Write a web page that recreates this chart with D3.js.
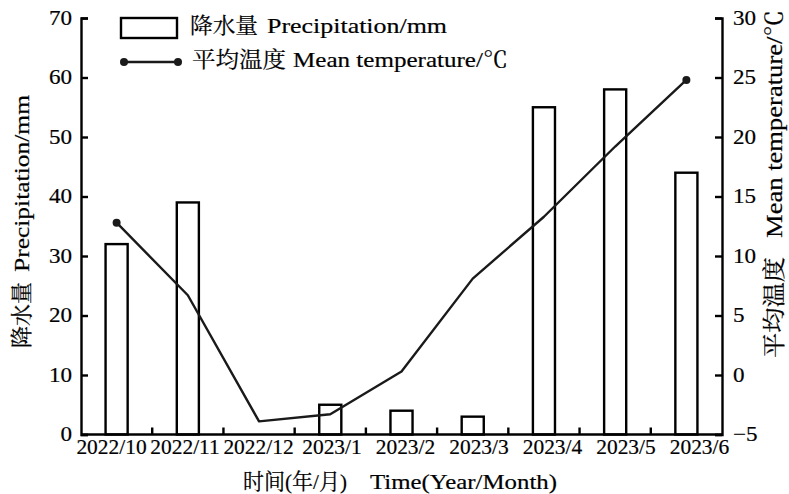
<!DOCTYPE html>
<html>
<head>
<meta charset="utf-8">
<script src="https://cdn.jsdelivr.net/npm/d3@7"></script>
<style>
  html, body { margin: 0; padding: 0; background: #fff; }
  svg text { font-family: "Liberation Serif", "Noto Serif CJK SC", "Noto Sans CJK SC", serif; fill: #000; stroke: #000; stroke-width: 0.2px; }
</style>
</head>
<body>
<svg id="chart" width="789" height="494"></svg>
<script>
// Monthly precipitation (bars, left axis) and mean temperature (line, right axis)
const months = ["2022/10", "2022/11", "2022/12", "2023/1", "2023/2", "2023/3", "2023/4", "2023/5", "2023/6"];
const precipitation = [32, 39, 0, 5, 4, 3, 55, 58, 44];
const temperature = [12.8, 6.7, -3.9, -3.3, 0.3, 8.1, 13.3, 19.2, 24.8];
const precipTicks = [0, 10, 20, 30, 40, 50, 60, 70];
const tempTicks = [-5, 0, 5, 10, 15, 20, 25, 30];

const svg = d3.select("#chart");
const plotL = 81, plotR = 722, plotT = 18, plotB = 434.5;
const fontSize = 21;
const tickStretch = 1.1;      // y tick labels are set a little wide
const stroke = 2.4;

const x = d3.scaleBand().domain(months).range([plotL, plotR]).padding(0);
const xLabel = d3.scalePoint().domain(months).range([111, 699]);
const yP = d3.scaleLinear().domain([0, 70]).range([plotB, plotT]);
const yT = d3.scaleLinear().domain([-5, 30]).range([plotB, plotT]);

const stretch = (sel, k) => sel.each(function () {
  const t = d3.select(this);
  const tx = +t.attr("x") || 0;
  t.attr("transform", `translate(${tx},0) scale(${k},1) translate(${-tx},0)`);
});

// Text run that spans an exact length along its baseline
function run(parent, str, length, size) {
  return parent.append("text")
    .attr("font-size", size)
    .attr("textLength", length)
    .attr("lengthAdjust", "spacingAndGlyphs")
    .text(str);
}

// Bars
const barW = x.bandwidth() * 0.31;
svg.append("g").selectAll("rect")
  .data(months.map((m, i) => ({ m, v: precipitation[i] })).filter(d => d.v > 0))
  .join("rect")
  .attr("x", d => x(d.m) + x.bandwidth() / 2 - barW / 2)
  .attr("y", d => yP(d.v))
  .attr("width", barW)
  .attr("height", d => yP(0) - yP(d.v))
  .attr("fill", "#fff")
  .attr("stroke", "#000")
  .attr("stroke-width", stroke);

// Temperature line, with markers at its two ends
const pts = months.map((m, i) => [x(m) + x.bandwidth() / 2, yT(temperature[i])]);
svg.append("path")
  .attr("d", d3.line()(pts))
  .attr("fill", "none")
  .attr("stroke", "#1a1a1a")
  .attr("stroke-width", stroke)
  .attr("stroke-linejoin", "round");
svg.append("g").selectAll("circle")
  .data([pts[0], pts[pts.length - 1]])
  .join("circle")
  .attr("cx", d => d[0]).attr("cy", d => d[1]).attr("r", 4)
  .attr("fill", "#1a1a1a");

// Axes
const styleAxis = g => {
  g.select(".domain").attr("stroke", "#000").attr("stroke-width", stroke);
  g.selectAll(".tick line").attr("stroke", "#000").attr("stroke-width", stroke);
  g.selectAll("text").attr("font-size", fontSize);
  g.attr("font-family", null).attr("font-size", null);
};

const gL = svg.append("g").attr("transform", `translate(${plotL},0)`)
  .call(d3.axisLeft(yP).tickValues(precipTicks).tickSizeInner(-7).tickSizeOuter(-7).tickPadding(9));
styleAxis(gL);
gL.selectAll(".tick text").attr("dy", "0.3em").call(stretch, tickStretch);

const gR = svg.append("g").attr("transform", `translate(${plotR},0)`)
  .call(d3.axisRight(yT).tickValues(tempTicks).tickFormat(d => d < 0 ? "\u2212" + Math.abs(d) : d).tickSizeInner(-7).tickSizeOuter(-7).tickPadding(11));
styleAxis(gR);
gR.selectAll(".tick text").attr("dy", "0.3em").call(stretch, tickStretch);

// Bottom axis: month labels, plus short ticks at the category boundaries
const gB = svg.append("g").attr("transform", `translate(0,${plotB})`)
  .call(d3.axisBottom(xLabel).tickSize(0).tickPadding(0));
styleAxis(gB);
gB.select(".domain").attr("d", `M${plotL},0H${plotR}`);
gB.selectAll(".tick text").attr("y", 19.5).attr("dy", null).call(stretch, 1.02);
svg.append("g").selectAll("line")
  .data(months.slice(1))
  .join("line")
  .attr("x1", d => x(d)).attr("x2", d => x(d))
  .attr("y1", plotB).attr("y2", plotB - 7)
  .attr("stroke", "#000").attr("stroke-width", stroke);

// Axis titles
const tl = svg.append("g").attr("transform", "translate(29,348) rotate(-90)");
run(tl, "降水量", 66, 22);
run(tl, "Precipitation/mm", 177, 22).attr("x", 76);

const tr = svg.append("g").attr("transform", "translate(782,358) rotate(-90)");
run(tr, "平均温度", 101, 23);
run(tr, "Mean temperature/℃", 228, 23).attr("x", 120);

const tb = svg.append("g").attr("transform", "translate(243,489)");
run(tb, "时间(年/月)", 104, 22);
run(tb, "Time(Year/Month)", 187, 22).attr("x", 127);

// Legend
const lg = svg.append("g");
lg.append("rect")
  .attr("x", 121).attr("y", 18).attr("width", 56).attr("height", 20)
  .attr("fill", "#fff").attr("stroke", "#000").attr("stroke-width", stroke);
lg.append("line")
  .attr("x1", 124).attr("x2", 178).attr("y1", 62).attr("y2", 62)
  .attr("stroke", "#1a1a1a").attr("stroke-width", stroke);
lg.selectAll("circle.lgd").data([124, 178]).join("circle")
  .attr("class", "lgd").attr("cx", d => d).attr("cy", 62).attr("r", 4).attr("fill", "#1a1a1a");

const l1 = lg.append("g").attr("transform", "translate(190,33)");
run(l1, "降水量", 68, 22);
run(l1, "Precipitation/mm", 180, 22).attr("x", 77);

const l2 = lg.append("g").attr("transform", "translate(192,67)");
run(l2, "平均温度", 94, 22);
run(l2, "Mean temperature/℃", 215, 22).attr("x", 101);
</script>
</body>
</html>
